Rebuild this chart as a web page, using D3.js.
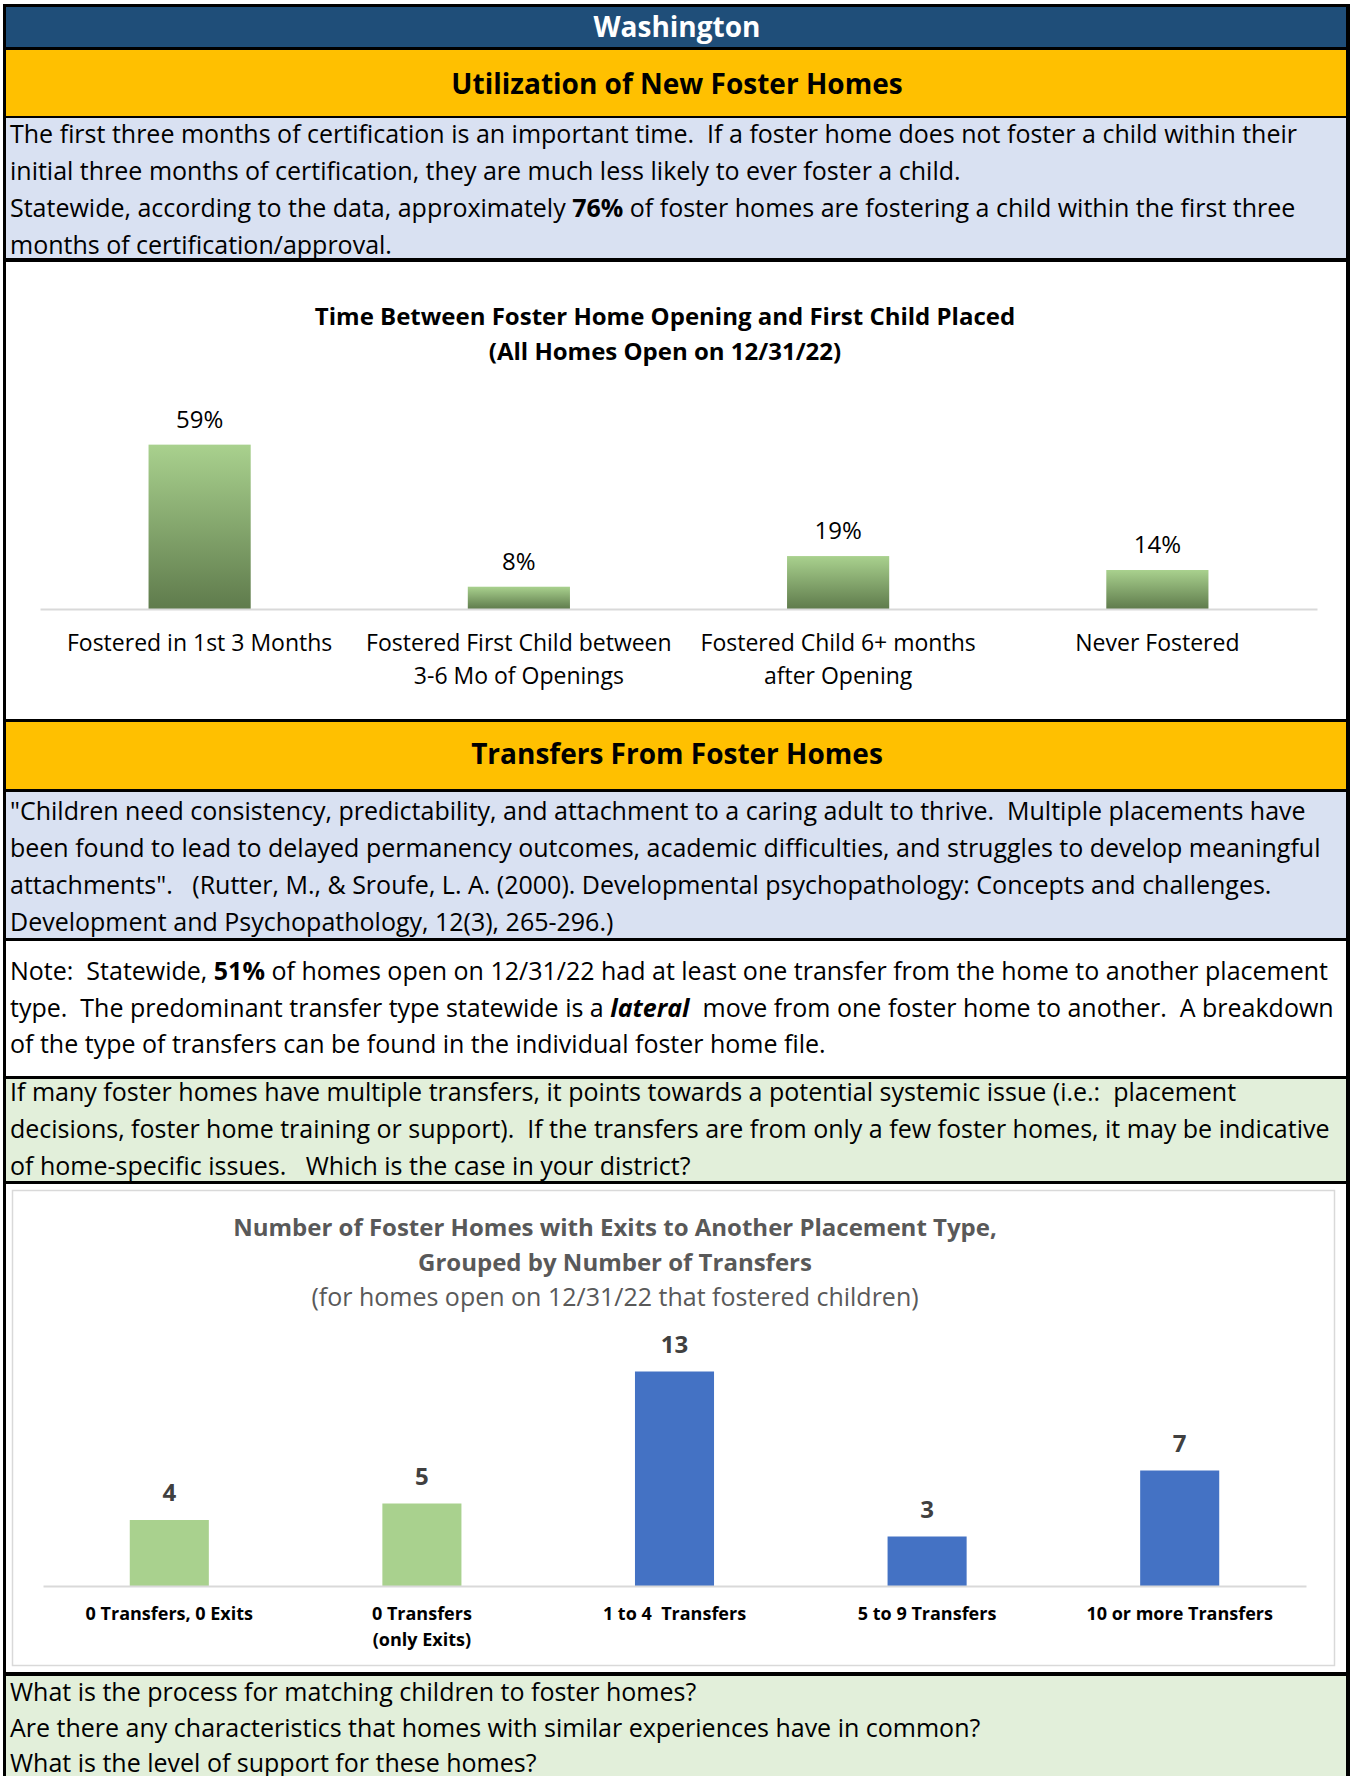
<!DOCTYPE html>
<html>
<head>
<meta charset="utf-8">
<script src="https://cdn.jsdelivr.net/npm/d3@7"></script>
<style>
  body { margin: 0; background: #fff; }
  svg { display: block; font-family: "Open Sans", "Noto Sans", sans-serif; }
  text { white-space: pre; }
</style>
</head>
<body>
<svg width="1350" height="1776"></svg>
<script>
// ---- data ----
var sectionTitles = ['Washington', 'Utilization of New Foster Homes', 'Transfers From Foster Homes'];

// text blocks: each line is a list of [text, style] pieces
var introLines = [
  [['The first three months of certification is an important time.  If a foster home does not foster a child within their', '']],
  [['initial three months of certification, they are much less likely to ever foster a child.', '']],
  [['Statewide, according to the data, approximately ', ''], ['76%', 'b'], [' of foster homes are fostering a child within the first three', '']],
  [['months of certification/approval.', '']]
];
var quoteLines = [
  [['"Children need consistency, predictability, and attachment to a caring adult to thrive.  Multiple placements have', '']],
  [['been found to lead to delayed permanency outcomes, academic difficulties, and struggles to develop meaningful', '']],
  [['attachments".   (Rutter, M., & Sroufe, L. A. (2000). Developmental psychopathology: Concepts and challenges.', '']],
  [['Development and Psychopathology, 12(3), 265-296.)', '']]
];
var noteLines = [
  [['Note:  Statewide, ', ''], ['51%', 'b'], [' of homes open on 12/31/22 had at least one transfer from the home to another placement', '']],
  [['type.  The predominant transfer type statewide is a ', ''], ['lateral', 'bi'], ['  move from one foster home to another.  A breakdown', '']],
  [['of the type of transfers can be found in the individual foster home file.', '']]
];
var systemicLines = [
  [['If many foster homes have multiple transfers, it points towards a potential systemic issue (i.e.:  placement', '']],
  [['decisions, foster home training or support).  If the transfers are from only a few foster homes, it may be indicative', '']],
  [['of home-specific issues.   Which is the case in your district?', '']]
];
var questionLines = [
  [['What is the process for matching children to foster homes?', '']],
  [['Are there any characteristics that homes with similar experiences have in common?', '']],
  [['What is the level of support for these homes?', '']]
];

// chart 1
var chart1Title = ['Time Between Foster Home Opening and First Child Placed', '(All Homes Open on 12/31/22)'];
var chart1Categories = [
  ['Fostered in 1st 3 Months'],
  ['Fostered First Child between', '3-6 Mo of Openings'],
  ['Fostered Child 6+ months', 'after Opening'],
  ['Never Fostered']
];
var chart1Values = [0.59, 0.08, 0.19, 0.14];

// chart 2
var chart2Title = ['Number of Foster Homes with Exits to Another Placement Type,', 'Grouped by Number of Transfers'];
var chart2Subtitle = '(for homes open on 12/31/22 that fostered children)';
var chart2Categories = [
  ['0 Transfers, 0 Exits'],
  ['0 Transfers', '(only Exits)'],
  ['1 to 4  Transfers'],
  ['5 to 9 Transfers'],
  ['10 or more Transfers']
];
var chart2Values = [4, 5, 13, 3, 7];
var chart2Groups = ['none', 'none', 'transfer', 'transfer', 'transfer'];

// ---- page layout ----
var svg = d3.select('svg');

// black frame behind everything, the bands leave gaps as rules
svg.append('rect')
  .attr('x', 3).attr('y', 4)
  .attr('width', 1347).attr('height', 1772)
  .attr('fill', '#000');

var bands = [
  {y0: 7, y1: 47, fill: '#1F4E79'},
  {y0: 50, y1: 116, fill: '#FFC000'},
  {y0: 118, y1: 258, fill: '#D9E1F2'},
  {y0: 262, y1: 719, fill: '#FFFFFF'},
  {y0: 722, y1: 789, fill: '#FFC000'},
  {y0: 792, y1: 938, fill: '#D9E1F2'},
  {y0: 941, y1: 1076, fill: '#FFFFFF'},
  {y0: 1079, y1: 1181, fill: '#E2EFDA'},
  {y0: 1184, y1: 1672, fill: '#FFFFFF'},
  {y0: 1676, y1: 1776, fill: '#E2EFDA'}
];

svg.selectAll('.band')
  .data(bands)
  .enter()
  .append('rect')
  .attr('class', 'band')
  .attr('x', 6)
  .attr('y', d => d.y0)
  .attr('width', 1340)
  .attr('height', d => d.y1 - d.y0)
  .attr('fill', d => d.fill);

// section headers
var headerPos = [{y: 37, fill: '#fff'}, {y: 94, fill: '#000'}, {y: 764, fill: '#000'}];
svg.selectAll('.header')
  .data(sectionTitles)
  .enter()
  .append('text')
  .attr('class', 'header')
  .attr('x', 677)
  .attr('y', (d, i) => headerPos[i].y)
  .attr('text-anchor', 'middle')
  .style('font-size', '28px')
  .style('font-weight', 'bold')
  .attr('fill', (d, i) => headerPos[i].fill)
  .text(d => d);

// paragraph helper
function paragraph(lines, y0, step) {
  var g = svg.append('g').attr('class', 'para');
  lines.forEach(function(line, i) {
    var t = g.append('text')
      .attr('x', 10)
      .attr('y', y0 + i * step)
      .style('font-size', '25px')
      .attr('fill', '#000');
    line.forEach(function(piece) {
      t.append('tspan')
        .style('font-weight', piece[1].indexOf('b') >= 0 ? 'bold' : 'normal')
        .style('font-style', piece[1].indexOf('i') >= 0 ? 'italic' : 'normal')
        .text(piece[0]);
    });
  });
}

paragraph(introLines, 143, 37);
paragraph(quoteLines, 820, 37);
paragraph(noteLines, 980, 36.5);
paragraph(systemicLines, 1101, 37);
paragraph(questionLines, 1701, 35.5);

// multi-line tick labels
function wrapTicks(sel, labels, lineStep) {
  sel.selectAll('.tick text').each(function(d) {
    var t = d3.select(this);
    t.text(null);
    labels[d].forEach(function(l, j) {
      t.append('tspan')
        .attr('x', 0)
        .attr('dy', j === 0 ? 0 : lineStep)
        .text(l);
    });
  });
}

// ---- chart 1 ----
var defs = svg.append('defs');
var grad = defs.append('linearGradient')
  .attr('id', 'greenGrad')
  .attr('x1', 0).attr('y1', 0).attr('x2', 0).attr('y2', 1);
grad.append('stop').attr('offset', '0%').attr('stop-color', '#A9D18E');
grad.append('stop').attr('offset', '100%').attr('stop-color', '#5F7B4C');

var c1 = svg.append('g').attr('class', 'chart1');

c1.selectAll('.title')
  .data(chart1Title)
  .enter()
  .append('text')
  .attr('class', 'title')
  .attr('x', 665)
  .attr('y', (d, i) => 325 + i * 35)
  .attr('text-anchor', 'middle')
  .style('font-size', '24px')
  .style('font-weight', 'bold')
  .text(d => d);

var x1 = d3.scaleBand()
  .domain(d3.range(chart1Values.length))
  .range([40, 1317])
  .paddingInner(0.68)
  .paddingOuter(0.34);

var y1 = d3.scaleLinear()
  .domain([0, 0.7])
  .range([609, 414]);

c1.selectAll('.bar')
  .data(chart1Values)
  .enter()
  .append('rect')
  .attr('class', 'bar')
  .attr('x', (d, i) => x1(i))
  .attr('y', d => y1(d))
  .attr('width', x1.bandwidth())
  .attr('height', d => y1(0) - y1(d))
  .attr('fill', 'url(#greenGrad)');

c1.selectAll('.value')
  .data(chart1Values)
  .enter()
  .append('text')
  .attr('class', 'value')
  .attr('x', (d, i) => x1(i) + x1.bandwidth() / 2)
  .attr('y', d => y1(d) - 17)
  .attr('text-anchor', 'middle')
  .style('font-size', '24px')
  .attr('fill', '#000')
  .text(d => d3.format('.0%')(d));

var ax1 = c1.append('g')
  .attr('transform', 'translate(0,' + y1(0) + ')')
  .call(d3.axisBottom(x1).tickSize(0).tickPadding(0).tickFormat(''));
ax1.select('.domain').attr('stroke', '#D9D9D9').attr('stroke-width', 2);
ax1.selectAll('.tick text')
  .attr('y', 42)
  .attr('dy', 0)
  .style('font-size', '23px')
  .style('font-family', '"Open Sans", sans-serif')
  .attr('fill', '#000');
wrapTicks(ax1, chart1Categories, 33);

// ---- chart 2 ----
var c2 = svg.append('g').attr('class', 'chart2');

c2.append('rect')
  .attr('x', 12.5).attr('y', 1190.5)
  .attr('width', 1322)
  .attr('height', 475)
  .attr('fill', '#fff')
  .attr('stroke', '#D9D9D9')
  .attr('stroke-width', 1.5);

c2.selectAll('.title')
  .data(chart2Title)
  .enter()
  .append('text')
  .attr('class', 'title')
  .attr('x', 615)
  .attr('y', (d, i) => 1236 + i * 35)
  .attr('text-anchor', 'middle')
  .style('font-size', '24px')
  .style('font-weight', 'bold')
  .attr('fill', '#595959')
  .text(d => d);

c2.append('text')
  .attr('x', 615)
  .attr('y', 1306)
  .attr('text-anchor', 'middle')
  .style('font-size', '25px')
  .attr('fill', '#595959')
  .text(chart2Subtitle);

var x2 = d3.scaleBand()
  .domain(d3.range(chart2Values.length))
  .range([43, 1306])
  .paddingInner(0.687)
  .paddingOuter(0.3435);

var y2 = d3.scaleLinear()
  .domain([0, 14])
  .range([1586, 1355]);

var color2 = d3.scaleOrdinal()
  .domain(['none', 'transfer'])
  .range(['#A9D18E', '#4472C4']);

c2.selectAll('.bar')
  .data(chart2Values)
  .enter()
  .append('rect')
  .attr('class', 'bar')
  .attr('x', (d, i) => x2(i))
  .attr('y', d => y2(d))
  .attr('width', x2.bandwidth())
  .attr('height', d => y2(0) - y2(d))
  .attr('fill', (d, i) => color2(chart2Groups[i]));

c2.selectAll('.value')
  .data(chart2Values)
  .enter()
  .append('text')
  .attr('class', 'value')
  .attr('x', (d, i) => x2(i) + x2.bandwidth() / 2)
  .attr('y', d => y2(d) - 19)
  .attr('text-anchor', 'middle')
  .style('font-size', '24px')
  .style('font-weight', 'bold')
  .attr('fill', '#404040')
  .text(d => d);

var ax2 = c2.append('g')
  .attr('transform', 'translate(0,' + y2(0) + ')')
  .call(d3.axisBottom(x2).tickSize(0).tickPadding(0).tickFormat(''));
ax2.select('.domain').attr('stroke', '#D9D9D9').attr('stroke-width', 2);
ax2.selectAll('.tick text')
  .attr('y', 34)
  .attr('dy', 0)
  .style('font-size', '18px')
  .style('font-weight', 'bold')
  .style('font-family', '"Open Sans", sans-serif')
  .attr('fill', '#000');
wrapTicks(ax2, chart2Categories, 26);
</script>
</body>
</html>
